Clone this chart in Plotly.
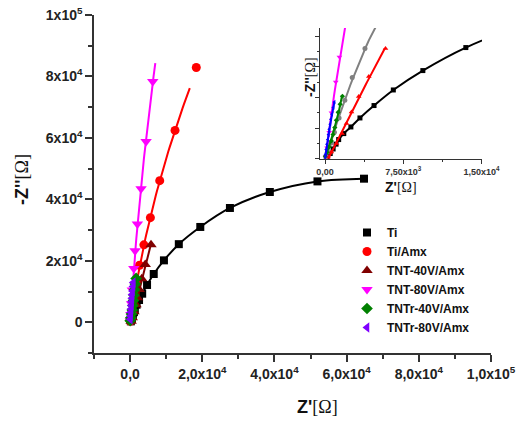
import numpy as np
import plotly.graph_objects as go

# ---- data: Nyquist plots, Z' and -Z'' in ohm ----
names = ["Ti", "Ti/Amx", "TNT-40V/Amx", "TNT-80V/Amx", "TNTr-40V/Amx", "TNTr-80V/Amx"]

ti_x = [200, 500, 780, 1060, 1310, 1800, 2480, 3350, 4700, 6550, 9380, 13500, 19450, 27660, 38720, 51920, 64810]
ti_y = [300, 1150, 2200, 3300, 4350, 5720, 7240, 9300, 12140, 15710, 20150, 25420, 31020, 37200, 42400, 45850, 46730]

tiamx_x = [80, 250, 550, 900, 1350, 1900, 2610, 3830, 5620, 8210, 12450, 18340]
tiamx_y = [300, 1500, 3500, 6000, 9300, 13350, 18550, 25190, 34050, 46080, 62440, 82930]

tnt40_x = [290, 610, 1090, 1640, 2060, 2540, 3230, 4200, 5800]
tnt40_y = [370, 1510, 3430, 5720, 8010, 10670, 14190, 18770, 25190]

tnt80_x = [60, 200, 400, 620, 1030, 1380, 2020, 3040, 4430, 6280]
tnt80_y = [500, 2500, 6000, 10500, 17540, 23270, 32000, 43480, 58860, 78370]

tntr40_x = [30, 200, 390, 610, 770, 940, 1090, 1260, 1450, 1670]
tntr40_y = [530, 1440, 2660, 4030, 5490, 7100, 8770, 10600, 12430, 14270]

tntr80_x = [50, 120, 190, 270, 340, 410, 500, 570, 670, 800, 900]
tntr80_y = [980, 2060, 3270, 4350, 5490, 6710, 7850, 9000, 10140, 11680, 12960]

series_x = [ti_x, tiamx_x, tnt40_x, tnt80_x, tntr40_x, tntr80_x]
series_y = [ti_y, tiamx_y, tnt40_y, tnt80_y, tntr40_y, tntr80_y]

# points used for each straight fit, and how far up (-Z'') each fit line is drawn
fit_npts = [None, 11, 9, 10, 10, 11]
fit_y_end = [None, 76220, 25190, 84360, 14270, 12960]

main_colors = ["#000000", "#FF0000", "#800000", "#FF00FF", "#008000", "#7F00FF"]
inset_colors = ["#000000", "#808080", "#FF0000", "#FF00FF", "#008000", "#0000FF"]
symbols = ["square", "circle", "triangle-up", "triangle-down", "diamond", "triangle-left"]
main_sizes = [8, 9, 10, 10, 9, 9]
inset_sizes = [5, 5, 5, 5, 4, 4]

main_xticks = [0, 20000, 40000, 60000, 80000, 100000]
main_xticktext = ["0,0", "2,0x10<sup>4</sup>", "4,0x10<sup>4</sup>", "6,0x10<sup>4</sup>",
                  "8,0x10<sup>4</sup>", "1,0x10<sup>5</sup>"]
main_yticks = [0, 20000, 40000, 60000, 80000, 100000]
main_yticktext = ["0", "2x10<sup>4</sup>", "4x10<sup>4</sup>", "6x10<sup>4</sup>",
                  "8x10<sup>4</sup>", "1x10<sup>5</sup>"]
inset_xticks = [0, 7500, 15000]
inset_xticktext = ["0,00", "7,50x10<sup>3</sup>", "1,50x10<sup>4</sup>"]
inset_yticks = [0, 7000, 14000, 21000, 28000]

SANS = "Liberation Sans, Arial, sans-serif"
AX = "#333333"
OHM = "<span style='font-family:Liberation Serif;font-weight:normal'>[Ω]</span>"


def fit_line(xs, ys, n, y_end):
    """Quadratic fit of Z' as a function of -Z'', sampled up to y_end."""
    xs = np.asarray(xs[:n], float)
    ys = np.asarray(ys[:n], float)
    p = np.polyfit(ys, xs, 2)
    yy = np.linspace(0, y_end, 60)
    return np.polyval(p, yy), yy


fig = go.Figure()

for k in range(6):
    xs, ys = series_x[k], series_y[k]
    for axis_id, colors, sizes in (("", main_colors, main_sizes), ("2", inset_colors, inset_sizes)):
        xa, ya = "x" + axis_id, "y" + axis_id
        if k == 0:
            fig.add_trace(go.Scatter(x=xs, y=ys, mode="lines", xaxis=xa, yaxis=ya,
                                     line=dict(color=colors[k], width=2, shape="spline", smoothing=1.0),
                                     showlegend=False, hoverinfo="skip"))
        else:
            fx, fy = fit_line(xs, ys, fit_npts[k], fit_y_end[k])
            fig.add_trace(go.Scatter(x=fx, y=fy, mode="lines", xaxis=xa, yaxis=ya,
                                     line=dict(color=colors[k], width=2),
                                     showlegend=False, hoverinfo="skip"))
        fig.add_trace(go.Scatter(x=xs, y=ys, mode="markers", xaxis=xa, yaxis=ya,
                                 name=names[k], showlegend=(axis_id == ""),
                                 marker=dict(symbol=symbols[k], size=sizes[k], color=colors[k],
                                             line=dict(width=0))))

axis_common = dict(showline=True, linecolor=AX, linewidth=1.5, ticks="outside",
                   tickcolor=AX, tickwidth=1.5, showgrid=False, zeroline=False,
                   mirror=False, automargin=False)
inset_axis = {**axis_common, "linewidth": 1.2, "tickwidth": 1.2}

fig.update_layout(
    width=518, height=422,
    margin=dict(l=0, r=0, t=0, b=0, pad=0, autoexpand=False),
    paper_bgcolor="white", plot_bgcolor="rgba(0,0,0,0)",
    showlegend=True,
    legend=dict(x=347 / 518, y=1 - 218 / 422, xanchor="left", yanchor="top",
                bgcolor="rgba(0,0,0,0)", font=dict(family=SANS, size=12, color="#111", weight="bold"),
                tracegroupgap=0, itemwidth=30),
    xaxis=dict(domain=[94 / 518, 491 / 518], range=[-10000, 100000], anchor="y",
               tickvals=main_xticks, ticktext=main_xticktext, ticklen=7,
               tickfont=dict(family=SANS, size=14, color="#222", weight="bold"),
               minor=dict(dtick=10000, tick0=0, ticklen=4, tickcolor=AX, tickwidth=1.5, ticks="outside"),
               **axis_common),
    yaxis=dict(domain=[1 - 353 / 422, 1 - 15 / 422], range=[-10000, 100000], anchor="x",
               tickvals=main_yticks, ticktext=main_yticktext, ticklen=7,
               tickfont=dict(family=SANS, size=14, color="#222", weight="bold"),
               minor=dict(dtick=10000, tick0=0, ticklen=4, tickcolor=AX, tickwidth=1.5, ticks="outside"),
               **axis_common),
    xaxis2=dict(domain=[320 / 518, 482 / 518], range=[-480, 15050], anchor="y2",
                tickvals=inset_xticks, ticktext=inset_xticktext, ticklen=4,
                tickfont=dict(family=SANS, size=9, color="#333", weight="bold"),
                minor=dict(dtick=3750, tick0=0, ticklen=2, tickcolor=AX, tickwidth=1, ticks="outside"),
                **inset_axis),
    yaxis2=dict(domain=[1 - 159 / 422, 1 - 28 / 422], range=[-100, 29900], anchor="x2",
                tickvals=inset_yticks, showticklabels=False, ticklen=4,
                minor=dict(dtick=3500, tick0=0, ticklen=2, tickcolor=AX, tickwidth=1, ticks="outside"),
                **inset_axis),
)

ann = dict(showarrow=False, xref="paper", yref="paper", xanchor="center", yanchor="middle")
fig.add_annotation(x=317 / 518, y=1 - 407 / 422, text="<b>Z'</b>" + OHM,
                   font=dict(family=SANS, size=18, color="#111"), **ann)
fig.add_annotation(x=22 / 518, y=1 - 180 / 422, textangle=-90, text="<b>-Z''</b>" + OHM,
                   font=dict(family=SANS, size=18, color="#111"), **ann)
fig.add_annotation(x=401 / 518, y=1 - 187 / 422, text="<b>Z'</b>" + OHM,
                   font=dict(family=SANS, size=14, color="#111"), **ann)
fig.add_annotation(x=310 / 518, y=1 - 77 / 422, textangle=-90, text="<b>-Z''</b>" + OHM,
                   font=dict(family=SANS, size=14, color="#111"), **ann)

fig.write_html("out.html")
